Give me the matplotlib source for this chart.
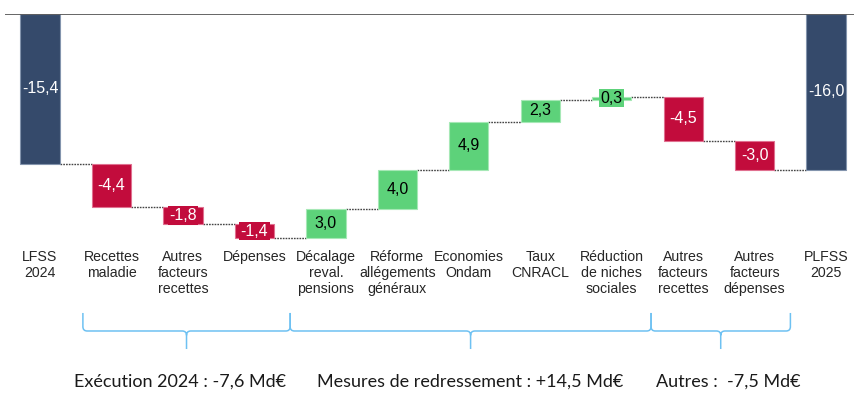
import matplotlib.pyplot as plt
from matplotlib.path import Path
from matplotlib.patches import PathPatch

# data
categories = ["LFSS\n2024", "Recettes\nmaladie", "Autres\nfacteurs\nrecettes", "Dépenses",
              "Décalage\nreval.\npensions", "Réforme\nallégements\ngénéraux", "Economies\nOndam",
              "Taux\nCNRACL", "Réduction\nde niches\nsociales", "Autres\nfacteurs\nrecettes",
              "Autres\nfacteurs\ndépenses", "PLFSS\n2025"]
values = [-15.4, -4.4, -1.8, -1.4, 3.0, 4.0, 4.9, 2.3, 0.3, -4.5, -3.0, -16.0]
is_total = [True, False, False, False, False, False, False, False, False, False, False, True]

group_edges = [0.6, 3.5, 8.55, 10.5]
group_labels = ["Exécution 2024 : -7,6 Md€", "Mesures de redressement : +14,5 Md€", "Autres :  -7,5 Md€"]

navy = "#354A6B"
red = "#C20C3C"
green = "#5DD27A"
brace_col = "#6EC1F2"

fig = plt.figure(figsize=(8.62, 3.97), dpi=100)
# axes placed so that 0 sits on the top line
ax = fig.add_axes([5 / 862, (397 - 245) / 397, 849 / 862, 231 / 397])
ax.set_xlim(-0.49, 11.39)
ax.set_ylim(-23.72, 0)

w = 0.55
running = 0.0
levels = []
for i, v in enumerate(values):
    if is_total[i]:
        bottom = 0
        col, edge, tcol = navy, "#8394AD", "white"
        running = v
    else:
        bottom = running
        running = running + v
        if v < 0:
            col, edge, tcol = red, "#E07090", "white"
        else:
            col, edge, tcol = green, "#A6E8B6", "black"
    ax.bar(i, v, bottom=bottom, width=w, color=col, edgecolor=edge, linewidth=0.8, zorder=2)
    box = None if is_total[i] else dict(boxstyle="square,pad=0.1", fc=col, ec="none")
    ax.text(i, bottom + v / 2, f"{v:.1f}".replace(".", ","), ha="center", va="center",
            fontsize=11.5, color=tcol, family="Liberation Sans", zorder=4, bbox=box)
    levels.append(running)

# dotted connectors
for i in range(len(values) - 1):
    ax.plot([i + w / 2, i + 1 - w / 2], [levels[i], levels[i]], color="#444444",
            linestyle=(0, (1.2, 0.8)), linewidth=1, zorder=1)

ax.axhline(0, color="#595959", linewidth=1.3, zorder=3)
for s in ax.spines.values():
    s.set_visible(False)
ax.set_yticks([])
ax.set_xticks(range(len(categories)))
ax.set_xticklabels(categories, fontsize=10.2, color="#262626", family="Liberation Sans",
                   linespacing=1.2)
ax.tick_params(axis="x", length=0, pad=3.5)

# curly braces below the labels (y in data units, 9.74 px per unit)
top_y, mid_y, tip_y = -30.7, -32.55, -34.4
rx, ry = 0.06, 0.45
text_shift = [-0.09, 0.0, 0.1]
for k in range(3):
    x0, x1 = group_edges[k], group_edges[k + 1]
    xm = (x0 + x1) / 2
    verts = [(x0, top_y), (x0, mid_y + ry), (x0, mid_y), (x0 + rx, mid_y),
             (xm - rx, mid_y), (xm, mid_y), (xm, mid_y - ry), (xm, tip_y),
             (xm, mid_y - ry), (xm, mid_y), (xm + rx, mid_y),
             (x1 - rx, mid_y), (x1, mid_y), (x1, mid_y + ry), (x1, top_y)]
    codes = [Path.MOVETO, Path.LINETO, Path.CURVE3, Path.CURVE3,
             Path.LINETO, Path.CURVE3, Path.CURVE3, Path.LINETO,
             Path.MOVETO, Path.CURVE3, Path.CURVE3,
             Path.LINETO, Path.CURVE3, Path.CURVE3, Path.LINETO]
    ax.add_patch(PathPatch(Path(verts, codes), fill=False, edgecolor=brace_col,
                           linewidth=1.1, clip_on=False))
    ax.text(xm + text_shift[k], -37.8, group_labels[k], ha="center", va="center", fontsize=13,
            color="#1a1a1a", family="Lato", clip_on=False)

fig.savefig("out.png", dpi=100)
